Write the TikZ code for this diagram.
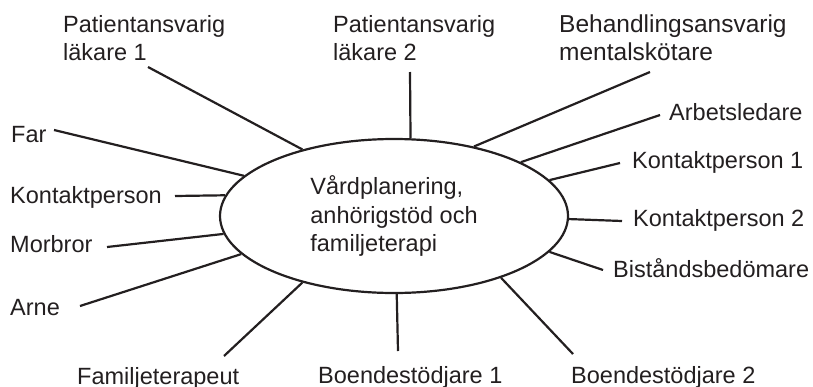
\documentclass[tikz,border=0pt]{standalone}
\usepackage{fontspec}
\setmainfont{Liberation Sans}
\usetikzlibrary{shapes.geometric}
\definecolor{ink}{HTML}{231F20}
\begin{document}
\begin{tikzpicture}[x=1pt,y=-1pt,
  lbl/.style={inner sep=0pt,text=ink,font=\fontsize{23.5}{28}\selectfont},
  lblml/.style={lbl,align=left,anchor=north west},
  lbls/.style={lbl,anchor=base west},
  conn/.style={draw=ink,line width=2.2pt}]
\useasboundingbox (0,0) rectangle (813,386);
\node[ellipse,draw=ink,line width=2.2pt,minimum width=348pt,minimum height=154pt,inner sep=0pt,
  align=left,text=ink,font=\fontsize{23.5}{28.5}\selectfont] (c) at (394,216)
  {Vårdplanering,\\anhörigstöd och\\familjeterapi};
% labels
\node[lblml] (pl1) at (63,15) {Patientansvarig\\läkare 1};
\node[lblml] (pl2) at (333,15) {Patientansvarig\\läkare 2};
\node[lblml,font=\fontsize{24.5}{28}\selectfont] (bam) at (559,15) {Behandlingsansvarig\\mentalskötare};
\node[lbls] (far) at (11,142) {Far};
\node[lbls] (kp) at (10,203) {Kontaktperson};
\node[lbls] (mor) at (10,252) {Morbror};
\node[lbls] (arne) at (10,315) {Arne};
\node[lbls] (fam) at (77,384) {Familjeterapeut};
\node[lbls] (bo1) at (318,383) {Boendestödjare 1};
\node[lbls] (bo2) at (571,383) {Boendestödjare 2};
\node[lbls] (bis) at (613,277) {Biståndsbedömare};
\node[lbls] (kp2) at (633,226) {Kontaktperson 2};
\node[lbls] (kp1) at (632,168) {Kontaktperson 1};
\node[lbls] (arb) at (669,120) {Arbetsledare};
% free ends
\coordinate (e1) at (148,67);
\coordinate (e2) at (54,130);
\coordinate (e3) at (175,196);
\coordinate (e4) at (107,247);
\coordinate (e5) at (80,306);
\coordinate (e6) at (224,356);
\coordinate (e7) at (398,351);
\coordinate (e8) at (573,354);
\coordinate (e9) at (603,270);
\coordinate (e10) at (622,221);
\coordinate (e11) at (620,163);
\coordinate (e12) at (660,115);
\coordinate (e13) at (650,72);
\coordinate (e14) at (410,72);
% connectors
\draw[conn] (e1) -- (c.144.3);
\draw[conn] (e2) -- (c.165.2);
\draw[conn] (e3) -- (c.173.8);
\draw[conn] (e4) -- (c.186);
\draw[conn] (e5) -- (c.194.8);
\draw[conn] (e6) -- (c.216.4);
\draw[conn] (e7) -- (c.272.5);
\draw[conn] (e8) -- (c.330.8);
\draw[conn] (e9) -- (c.347.7);
\draw[conn] (e10) -- (c.359.3);
\draw[conn] (e11) -- (c.13.2);
\draw[conn] (e12) -- (c.23.5);
\draw[conn] (e13) -- (c.41.1);
\draw[conn] (e14) -- (c.78.1);
\end{tikzpicture}
\end{document}
